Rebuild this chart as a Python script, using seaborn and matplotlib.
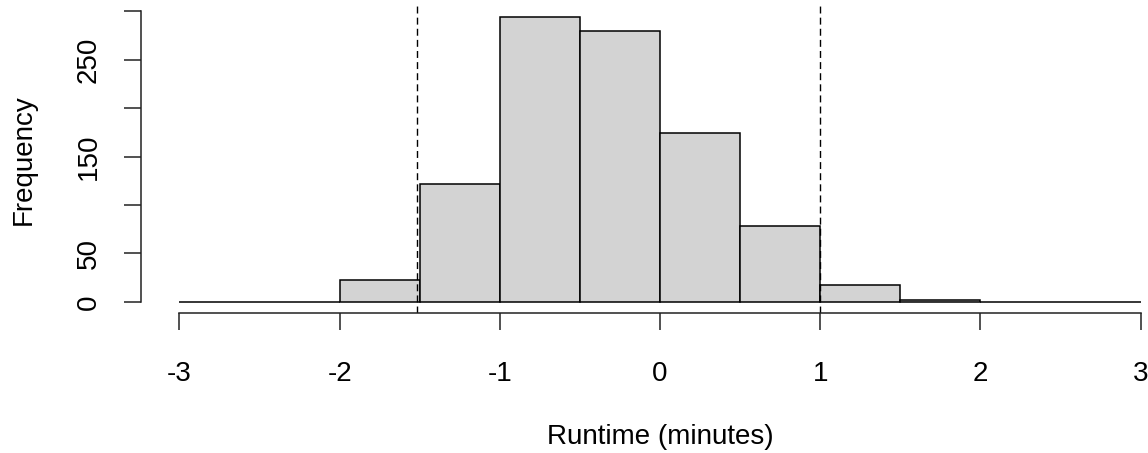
import numpy as np
import matplotlib
matplotlib.use("Agg")
import matplotlib.pyplot as plt
import seaborn as sns

# histogram bins (minutes) and counts
bin_edges = [-3.0, -2.5, -2.0, -1.5, -1.0, -0.5, 0.0, 0.5, 1.0, 1.5, 2.0, 2.5, 3.0]
counts = [0, 0, 23, 122, 294, 279, 174, 78, 18, 2, 0, 0]
cutoffs = [-1.515, 1.0]
x_ticks = [-3, -2, -1, 0, 1, 2, 3]
y_ticks = [0, 50, 100, 150, 200, 250, 300]
y_labels = ["0", "50", "", "150", "", "250", ""]

sns.set_theme(style="ticks")
plt.rcParams['font.family'] = ['Liberation Sans', 'DejaVu Sans']
plt.rcParams['text.color'] = 'black'
plt.rcParams['axes.labelcolor'] = 'black'
plt.rcParams['xtick.labelcolor'] = 'black'
plt.rcParams['ytick.labelcolor'] = 'black'

centers = [(a + b) / 2 for a, b in zip(bin_edges[:-1], bin_edges[1:])]

fig = plt.figure(figsize=(11.48, 4.53), dpi=100)
# R style: plot region padded 4% around data range, spills over the right edge
ax = fig.add_axes([141 / 1148, 139.6 / 453, 1038 / 1148, 308 / 453])

sns.histplot(x=centers, weights=counts, bins=bin_edges, color="#d3d3d3",
             edgecolor="black", linewidth=1.1, alpha=1, ax=ax)

for c in cutoffs:
    ax.axvline(c, color="black", linewidth=1.0, linestyle=(0, (5, 3)))

ax.set_xlim(-3.24, 3.24)
ax.set_ylim(-11.76, 305.8)

ax.spines['top'].set_visible(False)
ax.spines['right'].set_visible(False)
ax.spines['left'].set_bounds(0, 300)
ax.spines['bottom'].set_bounds(-3, 3)
for s in ['left', 'bottom']:
    ax.spines[s].set_color("#222222")
    ax.spines[s].set_linewidth(1.1)

ax.set_xticks(x_ticks)
ax.set_xticklabels([str(t) for t in x_ticks])
ax.set_yticks(y_ticks)
ax.set_yticklabels(y_labels, rotation=90, va="center")
ax.tick_params(axis='both', length=12, width=1.1, color="#222222",
               labelsize=20)
ax.tick_params(axis='x', pad=22)
ax.tick_params(axis='y', pad=16)

ax.set_xlabel("Runtime (minutes)", fontsize=20, labelpad=27)
ax.set_ylabel("Frequency", fontsize=20, labelpad=28)

fig.savefig("out.png", dpi=100)
